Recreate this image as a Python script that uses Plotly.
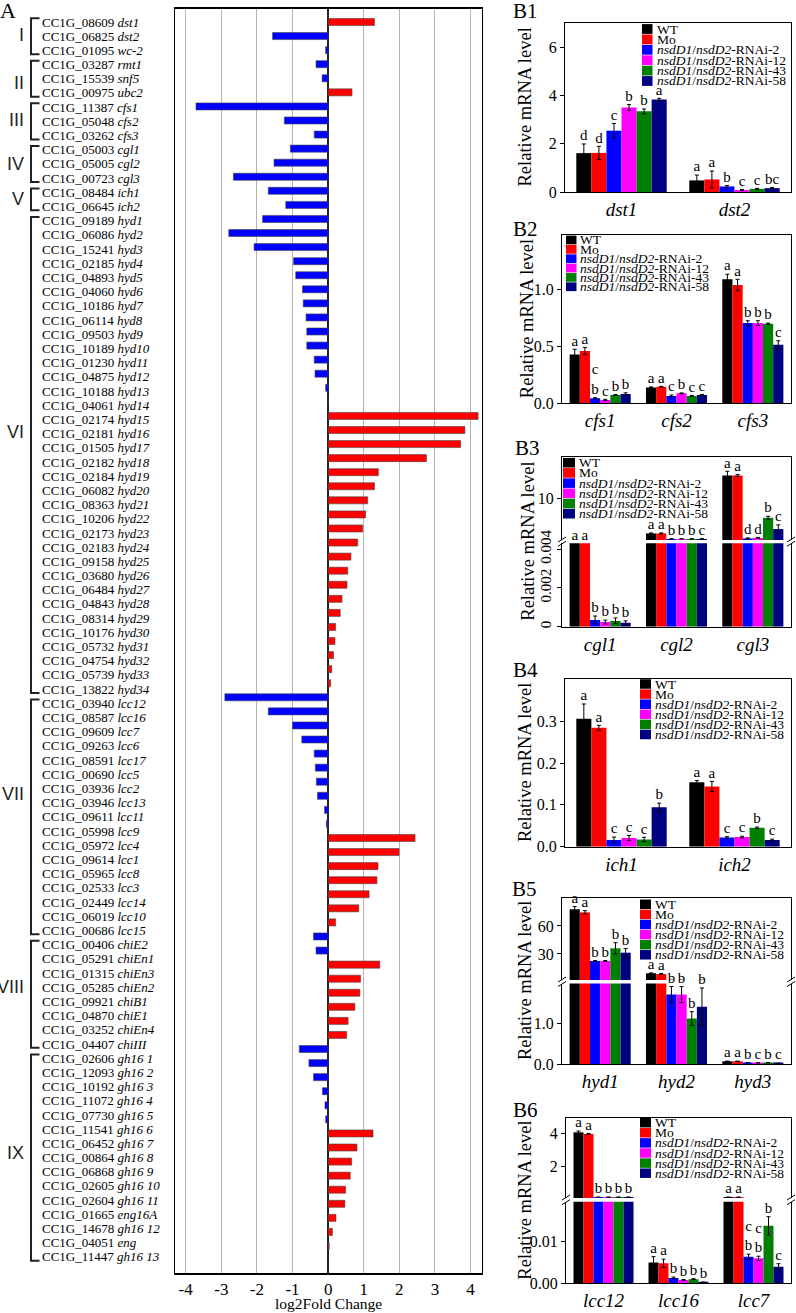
import plotly.graph_objects as go

W, H = 796, 1313
SERIF = "Liberation Serif"
SANS = "Liberation Sans"

# ------------------------------------------------------------------ Panel A data
gene_ids = [
    "CC1G_08609", "CC1G_06825", "CC1G_01095", "CC1G_03287", "CC1G_15539", "CC1G_00975",
    "CC1G_11387", "CC1G_05048", "CC1G_03262", "CC1G_05003", "CC1G_05005", "CC1G_00723",
    "CC1G_08484", "CC1G_06645",
    "CC1G_09189", "CC1G_06086", "CC1G_15241", "CC1G_02185", "CC1G_04893", "CC1G_04060",
    "CC1G_10186", "CC1G_06114", "CC1G_09503", "CC1G_10189", "CC1G_01230", "CC1G_04875",
    "CC1G_10188", "CC1G_04061", "CC1G_02174", "CC1G_02181", "CC1G_01505", "CC1G_02182",
    "CC1G_02184", "CC1G_06082", "CC1G_08363", "CC1G_10206", "CC1G_02173", "CC1G_02183",
    "CC1G_09158", "CC1G_03680", "CC1G_06484", "CC1G_04843", "CC1G_08314", "CC1G_10176",
    "CC1G_05732", "CC1G_04754", "CC1G_05739", "CC1G_13822",
    "CC1G_03940", "CC1G_08587", "CC1G_09609", "CC1G_09263", "CC1G_08591", "CC1G_00690",
    "CC1G_03936", "CC1G_03946", "CC1G_09611", "CC1G_05998", "CC1G_05972", "CC1G_09614",
    "CC1G_05965", "CC1G_02533", "CC1G_02449", "CC1G_06019", "CC1G_00686",
    "CC1G_00406", "CC1G_05291", "CC1G_01315", "CC1G_05285", "CC1G_09921", "CC1G_04870",
    "CC1G_03252", "CC1G_04407",
    "CC1G_02606", "CC1G_12093", "CC1G_10192", "CC1G_11072", "CC1G_07730", "CC1G_11541",
    "CC1G_06452", "CC1G_00864", "CC1G_06868", "CC1G_02605", "CC1G_02604", "CC1G_01665",
    "CC1G_14678", "CC1G_04051", "CC1G_11447",
]
gene_names = [
    "dst1", "dst2", "wc-2", "rmt1", "snf5", "ubc2",
    "cfs1", "cfs2", "cfs3", "cgl1", "cgl2", "cgl3",
    "ich1", "ich2",
    "hyd1", "hyd2", "hyd3", "hyd4", "hyd5", "hyd6", "hyd7", "hyd8", "hyd9", "hyd10",
    "hyd11", "hyd12", "hyd13", "hyd14", "hyd15", "hyd16", "hyd17", "hyd18", "hyd19",
    "hyd20", "hyd21", "hyd22", "hyd23", "hyd24", "hyd25", "hyd26", "hyd27", "hyd28",
    "hyd29", "hyd30", "hyd31", "hyd32", "hyd33", "hyd34",
    "lcc12", "lcc16", "lcc7", "lcc6", "lcc17", "lcc5", "lcc2", "lcc13", "lcc11", "lcc9",
    "lcc4", "lcc1", "lcc8", "lcc3", "lcc14", "lcc10", "lcc15",
    "chiE2", "chiEn1", "chiEn3", "chiEn2", "chiB1", "chiE1", "chiEn4", "chiIII",
    "gh16 1", "gh16 2", "gh16 3", "gh16 4", "gh16 5", "gh16 6", "gh16 7", "gh16 8",
    "gh16 9", "gh16 10", "gh16 11", "eng16A", "gh16 12", "eng", "gh16 13",
]
log2fc = [
    1.30, -1.56, -0.07, -0.34, -0.17, 0.67,
    -3.71, -1.23, -0.39, -1.06, -1.52, -2.66,
    -1.68, -1.19,
    -1.84, -2.79, -2.08, -0.97, -0.91, -0.72, -0.70, -0.62, -0.60, -0.60,
    -0.39, -0.37, -0.07, 0.0, 4.21, 3.84, 3.72, 2.76, 1.41,
    1.30, 1.11, 1.05, 0.97, 0.83, 0.64, 0.55, 0.53, 0.39,
    0.34, 0.21, 0.19, 0.15, 0.10, 0.07,
    -2.90, -1.68, -1.00, -0.74, -0.39, -0.36, -0.33, -0.30, -0.10, -0.05,
    2.44, 1.99, 1.40, 1.37, 1.15, 0.86, 0.21,
    -0.41, -0.34, 1.45, 0.91, 0.89, 0.75, 0.56, 0.52,
    -0.81, -0.54, -0.41, -0.16, -0.09, -0.07, 1.26, 0.81,
    0.66, 0.62, 0.49, 0.47, 0.22, 0.12, 0.03,
]
group_names = ["I", "II", "III", "IV", "V", "VI", "VII", "VIII", "IX"]
group_first = [0, 3, 6, 9, 12, 14, 48, 65, 73]
group_last = [2, 5, 8, 11, 13, 47, 64, 72, 87]
xticks_A = [-4, -3, -2, -1, 0, 1, 2, 3, 4]

# ------------------------------------------------------------------ Panel B data
strains = ["WT", "Mo", "nsdD1/nsdD2-RNAi-2", "nsdD1/nsdD2-RNAi-12",
           "nsdD1/nsdD2-RNAi-43", "nsdD1/nsdD2-RNAi-58"]
strain_colors = ["#000000", "#ff0000", "#0000ff", "#ff00ff", "#008000", "#000080"]

b1_genes = ["dst1", "dst2"]
b1_mean = [[1.61, 0.48], [1.62, 0.52], [2.54, 0.23], [3.50, 0.08], [3.34, 0.13], [3.83, 0.16]]
b1_err = [[0.38, 0.22], [0.27, 0.35], [0.30, 0.04], [0.12, 0.02], [0.10, 0.02], [0.05, 0.03]]
b1_letters = [["d", "a"], ["d", "a"], ["c", "b"], ["b", "c"], ["b", "c"], ["a", "bc"]]

b2_genes = ["cfs1", "cfs2", "cfs3"]
b2_mean = [[0.43, 0.14, 1.09], [0.46, 0.145, 1.04], [0.044, 0.065, 0.706],
           [0.03, 0.088, 0.706], [0.073, 0.065, 0.70], [0.082, 0.074, 0.515]]
b2_err = [[0.045, 0.004, 0.045], [0.03, 0.004, 0.05], [0.005, 0.008, 0.02],
          [0.005, 0.003, 0.02], [0.004, 0.004, 0.005], [0.01, 0.004, 0.035]]
b2_letters = [["a", "a", "a"], ["a", "a", "a"], ["c<br>b", "c", "b"],
              ["c", "b", "b"], ["b", "c", "b"], ["b", "c", "c"]]

b3_genes = ["cgl1", "cgl2", "cgl3"]
b3_mean = [[3.0, 6.63, 12.2], [3.0, 6.63, 12.2], [0.00035, 6.1, 6.15],
           [0.00024, 6.1, 6.2], [0.0003, 6.1, 8.13], [0.0002, 6.1, 7.05]]
b3_err = [[0.0, 0.05, 0.4], [0.0, 0.05, 0.1], [0.0002, 0.02, 0.05],
          [0.0001, 0.02, 0.05], [0.00015, 0.02, 0.15], [0.0001, 0.02, 0.4]]
b3_letters = [["a", "a", "a"], ["a", "a", "a"], ["b", "b", "d"],
              ["b", "b", "d"], ["b", "b", "b"], ["b", "c", "c"]]

b4_genes = ["ich1", "ich2"]
b4_mean = [[0.306, 0.154], [0.284, 0.144], [0.016, 0.022], [0.021, 0.023],
           [0.0175, 0.045], [0.094, 0.016]]
b4_err = [[0.035, 0.004], [0.006, 0.012], [0.007, 0.002], [0.006, 0.002],
          [0.005, 0.002], [0.01, 0.002]]
b4_letters = [["a", "a"], ["a", "a"], ["c", "c"], ["c", "c"], ["c", "b"], ["b", "c"]]

b5_genes = ["hyd1", "hyd2", "hyd3"]
b5_mean = [[77.9, 9.2, 0.067], [74.6, 8.4, 0.067], [22.4, 1.725, 0.033],
           [22.4, 1.725, 0.025], [36.0, 1.13, 0.033], [31.3, 1.42, 0.017]]
b5_err = [[2.9, 0.4, 0.005], [1.8, 0.5, 0.005], [0.5, 0.2, 0.003],
          [0.5, 0.2, 0.003], [6.0, 0.17, 0.003], [4.5, 0.47, 0.003]]
b5_letters = [["a", "a", "a"], ["a", "a", "a"], ["b", "b", "b"],
              ["b", "b", "c"], ["b", "b", "b"], ["b", "b", "c"]]

b6_genes = ["lcc12", "lcc16", "lcc7"]
b6_mean = [[4.08, 0.0050, 0.1], [3.98, 0.0048, 0.1], [0.1, 0.0013, 0.0064],
           [0.1, 0.0008, 0.0060], [0.1, 0.0010, 0.0138], [0.1, 0.0002, 0.0040]]
b6_err = [[0.08, 0.0014, 0.0], [0.03, 0.0010, 0.0], [0.01, 0.0002, 0.0006],
          [0.01, 0.0001, 0.0005], [0.01, 0.0001, 0.0022], [0.01, 0.0001, 0.0007]]
b6_letters = [["a", "a", "a"], ["a", "a", "a"], ["b", "b", "c<br>b"],
              ["b", "b", "c<br>b"], ["b", "b", "b"], ["b", "b", "c"]]


# ------------------------------------------------------------------ helpers
def fx(p):
    return p / W


def fy(p):
    return 1 - p / H


fig = go.Figure()
shapes = []
annotations = []
layout = dict(
    width=W, height=H, margin=dict(l=0, r=0, t=0, b=0, autoexpand=False),
    paper_bgcolor="white", plot_bgcolor="white", showlegend=False,
    barmode="overlay", font=dict(family=SERIF, color="black"),
)

# ------------------------------------------------------------------ Panel A
A_x0, A_x1, A_top, A_bot = 175, 482, 9, 1273
n_rows = len(gene_ids)
rows = list(range(n_rows))
layout["xaxis"] = dict(
    domain=[fx(A_x0), fx(A_x1)], anchor="y", range=[-4.3, 4.32],
    tickvals=xticks_A, ticktext=[str(v) for v in xticks_A],
    tickfont=dict(family=SERIF, size=17), ticks="",
    showgrid=True, gridcolor="#b4b4b4", gridwidth=1,
    zeroline=True, zerolinecolor="#222222", zerolinewidth=1.5,
    showline=True, mirror=True, linecolor="black", linewidth=1.5,
)
layout["yaxis"] = dict(
    domain=[fy(A_bot), fy(A_top)], anchor="x", range=[88.92, -0.924],
    showticklabels=False, showgrid=False, zeroline=False,
    showline=True, mirror=True, linecolor="black", linewidth=1.2, ticks="",
)
layout["yaxis2"] = dict(
    overlaying="y", anchor="x", range=[88.13, -0.916], visible=False,
)
fig.add_trace(go.Bar(
    x=log2fc, y=rows, orientation="h", width=0.5,
    marker=dict(color=["#ff0000" if v > 0 else "#0000ff" for v in log2fc],
                line=dict(color="#444444", width=0.6)),
    xaxis="x", yaxis="y", hoverinfo="skip",
))
fig.add_trace(go.Scatter(
    x=[0] * n_rows, y=rows, mode="markers", marker=dict(opacity=0),
    xaxis="x", yaxis="y2", hoverinfo="skip",
))
for i in rows:
    annotations.append(dict(
        x=fx(40), xref="paper", y=i, yref="y2", xanchor="left", yanchor="middle",
        text=f"{gene_ids[i]} <i>{gene_names[i]}</i>", showarrow=False,
        font=dict(family=SERIF, size=13, color="black"),
    ))
numeral_rows = [0.92, 4.3, 6.9, 10.0, 12.5, 28.9, 54.4, 68.0, 79.7]
for g, name in enumerate(group_names):
    y0 = group_first[g] - 0.27
    y1 = group_last[g] + 0.27
    xv, xt = fx(31), fx(39.5)
    shapes.append(dict(
        type="path", xref="paper", yref="y2",
        path=f"M {xt},{y0} L {xv},{y0} L {xv},{y1} L {xt},{y1}",
        line=dict(color="#222222", width=2),
    ))
    annotations.append(dict(
        x=fx(26), xref="paper", y=numeral_rows[g], yref="y2",
        xanchor="right", yanchor="middle", text=name, showarrow=False,
        font=dict(family=SANS, size=18, color="#222222"),
    ))
annotations.append(dict(
    x=fx((A_x0 + A_x1) / 2), xref="paper", y=fy(1303), yref="paper",
    text="log2Fold Change", showarrow=False, xanchor="center", yanchor="middle",
    font=dict(family=SERIF, size=15.5, color="black"),
))
annotations.append(dict(
    x=fx(8), xref="paper", y=fy(11), yref="paper", text="A", showarrow=False,
    xanchor="center", yanchor="middle", font=dict(family=SERIF, size=22, color="black"),
))

# ------------------------------------------------------------------ Panel B helper
axis_no = [3]


def add_panel(genes, means, errs, letters, cfg):
    n_g = len(genes)
    n_s = len(strains)
    bw = 0.8 / n_s
    segs = cfg["segments"]
    seg_axes = []
    for si, seg in enumerate(segs):
        n = axis_no[0]
        axis_no[0] += 1
        xa = dict(domain=[fx(cfg["x0"]), fx(cfg["x1"])], anchor=f"y{n}",
                  range=[-0.5, n_g - 0.5], showline=True, linecolor="black",
                  linewidth=1, showgrid=False, zeroline=False, ticks="")
        if si == 0:
            xa.update(tickvals=list(range(n_g)),
                      ticktext=[f"<i>{g}</i>" for g in genes],
                      tickfont=dict(family=SERIF, size=19), mirror=(len(segs) == 1))
        else:
            xa.update(side="top", showticklabels=False)
        ya = dict(domain=[fy(seg["bot"]), fy(seg["top"])], anchor=f"x{n}",
                  range=seg["range"], tickvals=seg["tickvals"], ticktext=seg["ticktext"],
                  tickangle=seg.get("tickangle", 0), ticks="outside", ticklen=4,
                  tickcolor="black",
                  tickfont=dict(family=SERIF, size=seg.get("tickfont", 16)),
                  showline=True, mirror=True, linecolor="black", linewidth=1,
                  showgrid=False, zeroline=False)
        layout[f"xaxis{n}"] = xa
        layout[f"yaxis{n}"] = ya
        seg_axes.append(n)
        for k in range(n_s):
            fig.add_trace(go.Bar(
                x=[i + (k - (n_s - 1) / 2) * bw for i in range(n_g)], y=means[k],
                width=bw, marker=dict(color=strain_colors[k], line=dict(width=0)),
                error_y=dict(type="data", array=errs[k], color="black",
                             thickness=1, width=2),
                xaxis=f"x{n}", yaxis=f"y{n}", hoverinfo="skip",
            ))
    # significance letters
    pts = {n: ([], [], []) for n in seg_axes}
    for k in range(n_s):
        for i in range(n_g):
            v, e = means[k][i], errs[k][i]
            target = 0
            for si in range(len(segs) - 1, 0, -1):
                if v > segs[si]["range"][0]:
                    target = si
                    break
            top = v + e
            if target == 0 and top > segs[0]["range"][1]:
                top = segs[0]["range"][1]
            xs, ys, ts = pts[seg_axes[target]]
            xs.append(i + (k - (n_s - 1) / 2) * bw)
            ys.append(top)
            ts.append(letters[k][i])
    for n, (xs, ys, ts) in pts.items():
        if xs:
            fig.add_trace(go.Scatter(
                x=xs, y=ys, text=ts, mode="text", textposition="top center",
                textfont=dict(family=SERIF, size=15, color="black"),
                cliponaxis=False, xaxis=f"x{n}", yaxis=f"y{n}", hoverinfo="skip",
            ))
    # break marks
    for si in range(1, len(segs)):
        g_top = segs[si]["bot"]
        g_bot = segs[si - 1]["top"]
        for xe in (cfg["x0"], cfg["x1"]):
            for gy in (g_top - 0.5, g_bot + 0.5):
                shapes.append(dict(type="line", xref="paper", yref="paper",
                                   x0=fx(xe - 4), y0=fy(gy + 2.5),
                                   x1=fx(xe + 4), y1=fy(gy - 2.5),
                                   line=dict(color="black", width=1)))
    # legend
    lg = cfg["legend"]
    for k in range(n_s):
        yc = lg["y0"] + k * lg["dy"]
        shapes.append(dict(type="rect", xref="paper", yref="paper",
                           x0=fx(lg["sx0"]), x1=fx(lg["sx1"]),
                           y0=fy(yc - lg["dy"] / 2 + 0.3), y1=fy(yc + lg["dy"] / 2 - 0.3),
                           fillcolor=strain_colors[k], line=dict(width=0)))
        label = strains[k].replace("nsdD1", "<i>nsdD1</i>").replace("nsdD2", "<i>nsdD2</i>")
        annotations.append(dict(
            x=fx(lg["tx"]), xref="paper", y=fy(yc), yref="paper", text=label,
            xanchor="left", yanchor="middle", showarrow=False,
            font=dict(family=SERIF, size=13.5, color="black"),
        ))
    # y title & panel label
    tops = [s["top"] for s in segs]
    bots = [s["bot"] for s in segs]
    annotations.append(dict(
        x=fx(cfg["title_x"]), xref="paper", y=fy((min(tops) + max(bots)) / 2), yref="paper",
        text="Relative mRNA level", textangle=-90, showarrow=False,
        xanchor="center", yanchor="middle",
        font=dict(family=SERIF, size=18.5, color="black"),
    ))
    annotations.append(dict(
        x=fx(cfg["label_xy"][0]), xref="paper", y=fy(cfg["label_xy"][1]), yref="paper",
        text=cfg["label"], showarrow=False, xanchor="center", yanchor="middle",
        font=dict(family=SERIF, size=21, color="black"),
    ))


add_panel(b1_genes, b1_mean, b1_err, b1_letters, dict(
    x0=565, x1=791, label="B1", label_xy=(525, 11), title_x=525,
    segments=[dict(top=23, bot=192, range=[0, 7], tickvals=[0, 2, 4, 6],
                   ticktext=["0", "2", "4", "6"])],
    legend=dict(sx0=642, sx1=652.5, y0=29, dy=10.4, tx=654.5),
))
add_panel(b2_genes, b2_mean, b2_err, b2_letters, dict(
    x0=562, x1=791, label="B2", label_xy=(525, 229), title_x=527,
    segments=[dict(top=235, bot=403.3, range=[0, 1.48], tickvals=[0, 0.5, 1.0],
                   ticktext=["0.0", "0.5", "1.0"])],
    legend=dict(sx0=566, sx1=576.5, y0=240, dy=9.35, tx=578),
))
add_panel(b3_genes, b3_mean, b3_err, b3_letters, dict(
    x0=562, x1=791, label="B3", label_xy=(527, 448), title_x=528,
    segments=[dict(top=543.3, bot=626.7, range=[0, 0.0043], tickvals=[0, 0.002, 0.004],
                   ticktext=["0", "0.002", "0.004"], tickangle=-90, tickfont=15),
              dict(top=456.7, bot=540, range=[6, 14], tickvals=[10], ticktext=["10"])],
    legend=dict(sx0=563, sx1=575, y0=462.7, dy=10.2, tx=577),
))
add_panel(b4_genes, b4_mean, b4_err, b4_letters, dict(
    x0=565, x1=791, label="B4", label_xy=(525, 670), title_x=525,
    segments=[dict(top=679.3, bot=846.7, range=[0, 0.4], tickvals=[0, 0.1, 0.2, 0.3],
                   ticktext=["0.0", "0.1", "0.2", "0.3"])],
    legend=dict(sx0=640, sx1=651, y0=684, dy=10.1, tx=653),
))
add_panel(b5_genes, b5_mean, b5_err, b5_letters, dict(
    x0=562, x1=791, label="B5", label_xy=(524, 889), title_x=525,
    segments=[dict(top=983.5, bot=1064, range=[0, 2.0], tickvals=[0, 1.0],
                   ticktext=["0.0", "1.0"]),
              dict(top=898, bot=980, range=[2, 90], tickvals=[30, 60],
                   ticktext=["30", "60"])],
    legend=dict(sx0=640, sx1=651, y0=904.3, dy=10.1, tx=653),
))
add_panel(b6_genes, b6_mean, b6_err, b6_letters, dict(
    x0=566, x1=791, label="B6", label_xy=(525, 1110), title_x=525,
    segments=[dict(top=1201.7, bot=1283.3, range=[0, 0.0196], tickvals=[0, 0.01],
                   ticktext=["0.00", "0.01"]),
              dict(top=1118, bot=1198, range=[0.05, 4.96], tickvals=[2, 4],
                   ticktext=["2", "4"])],
    legend=dict(sx0=640, sx1=651, y0=1122.7, dy=10.1, tx=653),
))

layout["shapes"] = shapes
layout["annotations"] = annotations
fig.update_layout(**layout)
fig.write_html(
    "out.html",
    config={"displayModeBar": False},
    post_script="document.body.style.margin='0px';document.body.style.overflow='hidden';",
)
